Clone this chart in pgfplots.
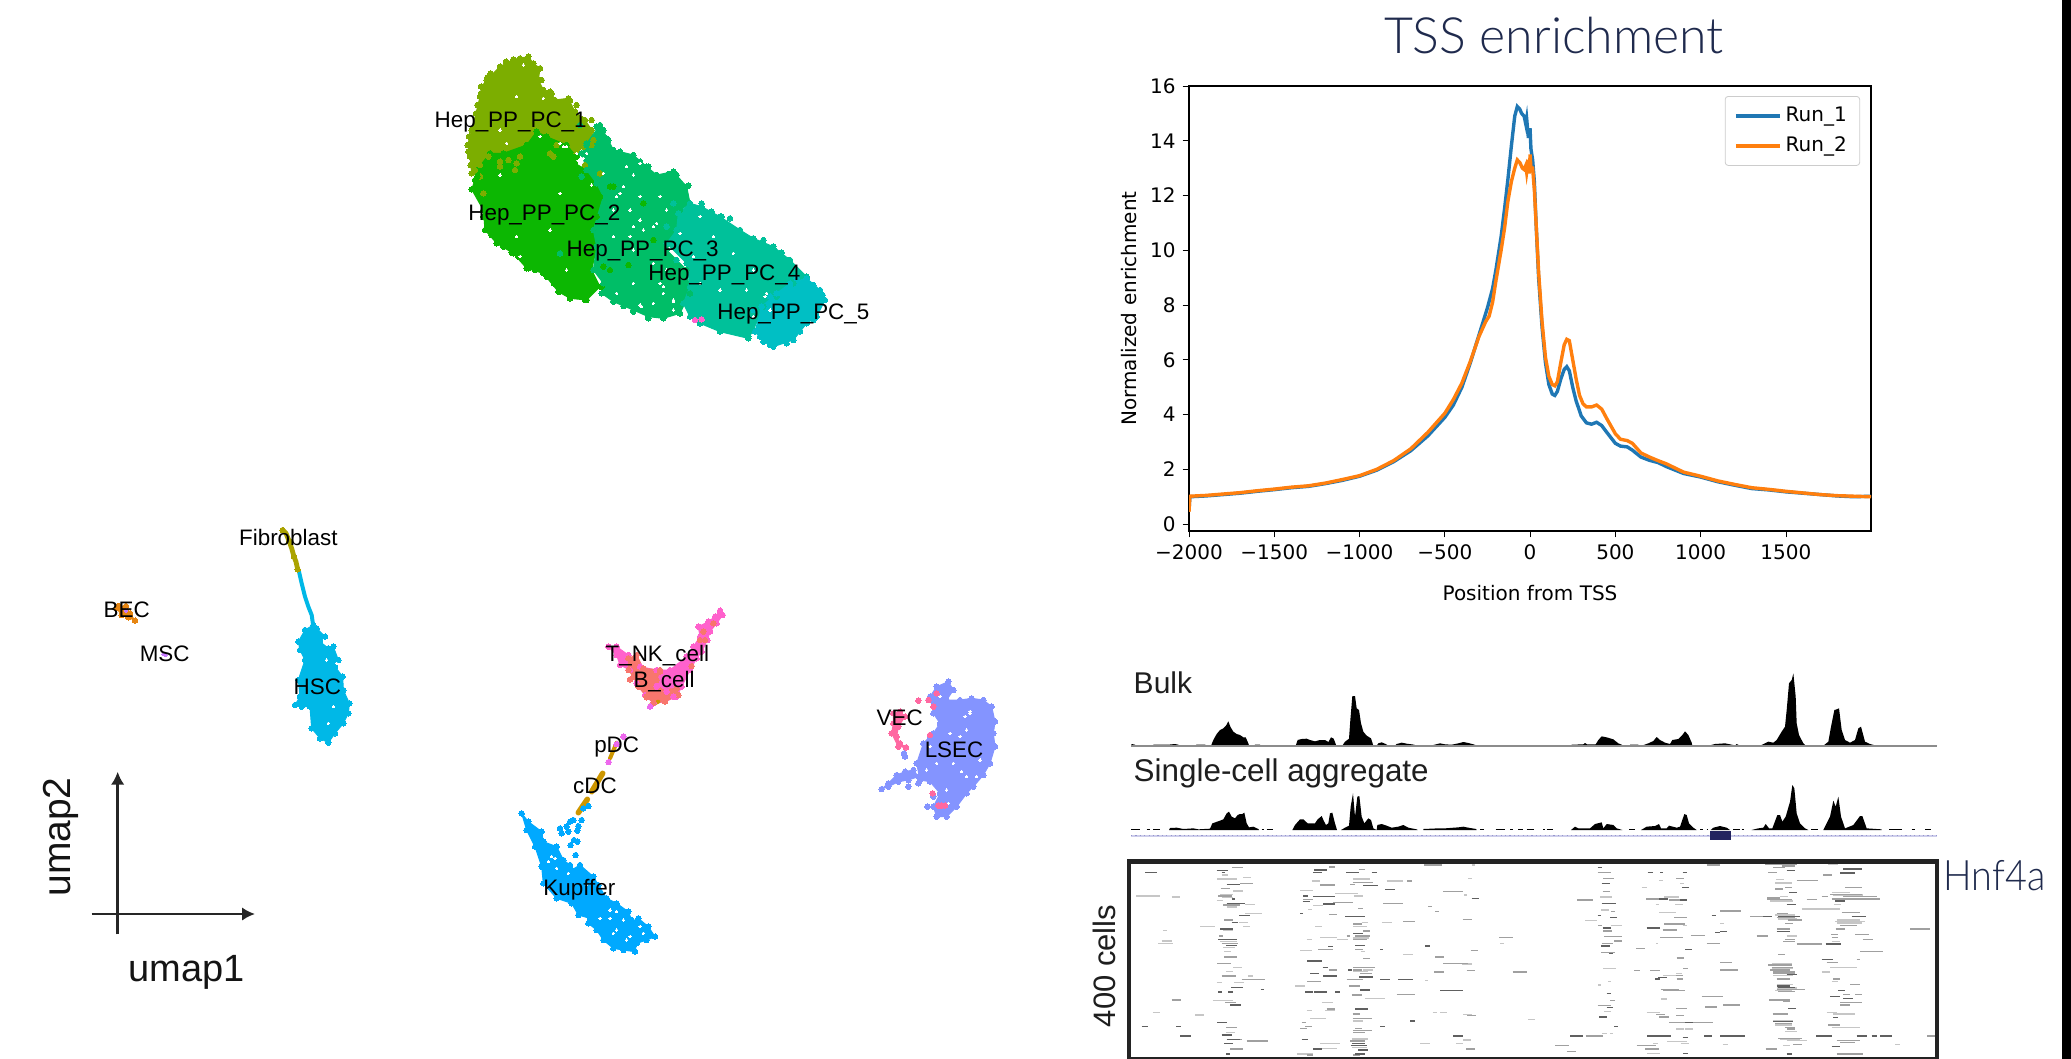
\documentclass[border=0pt]{standalone}
\usepackage{pgfplots}
\pgfplotsset{compat=1.18}
\usepackage{fontspec}
\setmainfont{Liberation Sans}
\newfontfamily\djv{DejaVu Sans}
\newfontfamily\gill{Lato Light}
\usetikzlibrary{arrows.meta}
\definecolor{hA}{HTML}{7CAE00}\definecolor{hB}{HTML}{0CB702}\definecolor{hC}{HTML}{00BE67}
\definecolor{hD}{HTML}{00C19A}\definecolor{hE}{HTML}{00BFC4}\definecolor{hsc}{HTML}{00B8E7}
\definecolor{kup}{HTML}{00A9FF}\definecolor{lsec}{HTML}{8494FF}\definecolor{vec}{HTML}{FF68A1}
\definecolor{tnk}{HTML}{FF61CC}\definecolor{bcell}{HTML}{F8766D}\definecolor{cdc}{HTML}{CD9600}
\definecolor{bec}{HTML}{E68613}\definecolor{fib}{HTML}{ABA300}\definecolor{pdc}{HTML}{ED68ED}
\definecolor{msc}{HTML}{C77CFF}\definecolor{navy}{HTML}{1F2A4D}\definecolor{runA}{HTML}{1F77B4}
\definecolor{runB}{HTML}{FF7F0E}
\definecolor{dk}{HTML}{606060}\definecolor{md}{HTML}{A0A0A0}\definecolor{lt}{HTML}{C6C6C6}
\tikzset{lab/.style={font=\fontsize{11.2}{12}\selectfont,anchor=base,text=black,inner sep=0pt}}
\pgfplotsset{
 panel/.style={hide axis,scale only axis,anchor=north west,y dir=reverse,clip=true},
 blob/.style={fill=#1,draw=#1,line width=0.5pt,mark=*,mark size=1.35pt,mark options={fill=#1,draw=#1,line width=0pt,solid}},
 dots/.style={only marks,mark=*,mark size=1.35pt,mark options={fill=#1,draw=#1,line width=0pt}},
 gap/.style={only marks,mark=*,mark size=0.65pt,mark options={fill=white,draw=white,line width=0pt}},
 cline/.style={draw=#1,line width=2.4pt,line cap=round,line join=round},
 seg/.style={draw=none,mark=none,forget plot,error bars/x dir=plus,error bars/x explicit,error bars/error mark=none,error bars/error bar style={color=#1,line width=0.8pt,solid}},
 table/segt/.style={row sep=\\,header=false,x index=0,y index=1,x error index=2},
}
\begin{document}
\begin{tikzpicture}
\useasboundingbox (0,0) rectangle (1035.5pt,-529.5pt);

% ---------- Hepatocyte clusters
\begin{axis}[panel,at={(200pt,-15pt)},width=250pt,height=170pt,xmin=0,xmax=1500,ymin=0,ymax=1020]
\addplot[blob=hA] coordinates {(385,80)(400,100)(420,115)(415,150)(430,180)(455,190)(465,210)(505,205)(525,245)(555,270)(575,300)(580,330)(550,350)(530,370)(450,370)(350,400)(300,410)(240,440)(215,430)(210,380)(203,345)(215,300)(228,250)(240,200)(245,170)(260,150)(300,110)(340,88)} --cycle;
\addplot[dots=hA] coordinates {(420,115)(243,170)(243,190)(262,142)(425,150)(450,185)(510,212)(530,225)(548,268)(575,270)(318,95)(360,85)(272,130)(232,225)(207,320)(205,365)(212,405)};
\addplot[blob=hB] coordinates {(230,420)(270,370)(310,370)(380,345)(410,305)(440,320)(500,345)(530,380)(525,400)(560,420)(590,460)(610,500)(590,560)(580,600)(590,650)(575,720)(600,770)(560,810)(510,805)(475,785)(430,730)(380,715)(340,670)(290,640)(255,600)(250,540)(215,478)(225,450)} --cycle;
\addplot[dots=hB] coordinates {(215,478)(240,500)(250,560)(275,615)(310,650)(355,680)(385,715)(440,740)(480,785)(510,800)(555,810)(605,770)(232,438)(262,590)(335,668)(405,720)(462,760)};
\addplot[dots=hA] coordinates {(240,405)(225,420)(250,490)(265,380)(300,395)(345,420)(325,390)(360,380)(460,380)(600,430)(555,405)(575,345)(510,330)(470,345)};
\addplot[blob=hC] coordinates {(560,340)(600,285)(625,330)(640,360)(700,375)(740,410)(770,435)(820,425)(860,470)(870,520)(840,540)(830,600)(800,660)(860,720)(870,790)(840,850)(790,865)(745,860)(700,840)(640,815)(605,790)(610,760)(580,720)(590,650)(580,600)(610,500)(590,460)(560,420)(545,370)} --cycle;
\addplot[dots=hC] coordinates {(540,285)(560,345)(480,670)(590,290)(610,300)(830,435)(545,440)(620,325)(660,365)(695,380)(745,410)(770,435)(820,425)(865,467)(640,815)(700,845)(745,865)(790,860)(840,850)(720,395)(805,432)(670,828)};
\addplot[dots=hB] coordinates {(630,470)(730,520)(685,705)(760,630)(630,720)(610,710)(540,745)(640,470)(600,500)};
\addplot[blob=hD] coordinates {(870,520)(905,530)(960,560)(1020,600)(1060,625)(1120,650)(1170,690)(1220,740)(1180,760)(1130,800)(1090,830)(1060,900)(1045,925)(960,905)(900,880)(870,860)(850,820)(870,770)(860,700)(800,640)(830,600)(835,550)} --cycle;
\addplot[dots=hD] coordinates {(800,590)(830,690)(880,600)(820,520)(895,830)(880,840)(1000,900)(960,905)(1045,920)(1090,630)(905,520)(935,545)(965,560)(1020,600)(1060,625)(1120,655)(1165,690)(1000,900)(990,565)(1145,668)};
\addplot[blob=hE] coordinates {(1220,745)(1260,780)(1275,810)(1250,860)(1220,880)(1180,930)(1120,950)(1090,935)(1065,905)(1085,830)(1130,790)(1170,760)} --cycle;
\addplot[dots=hE] coordinates {(1110,800)(1090,850)(1190,745)(1060,840)(1240,765)(1268,795)(1240,870)(1200,905)(1160,940)(1110,945)(1080,920)};
\addplot[gap] coordinates {(720,570)(770,580)(700,590)(650,500)(680,410)(720,400)(560,370)(530,370)(575,465)(480,490)(320,340)(300,435)(720,825)(820,815)(790,770)(840,610)(900,560)(1100,790)(690,620)(500,350)(550,385)(660,490)(730,600)(760,590)(820,810)(370,105)(430,205)(490,350)(700,435)(670,470)(640,540)(720,500)(780,500)(800,540)(690,540)(640,620)(700,660)(760,700)(800,720)(880,680)(940,620)(1000,670)(1060,720)(1040,780)(960,780)(900,760)(700,760)(650,790)(760,820)(820,840)(1110,840)(1060,860)(450,600)(350,620)(500,720)(300,300)(350,200)(420,320)(480,340)(360,680)(780,760)(790,790)(725,830)(1095,800)(610,430)};
\addplot[dots=tnk] coordinates {(885,870)(905,868)};
\end{axis}
\begin{axis}[panel,at={(200pt,-15pt)},width=250pt,height=170pt,xmin=0,xmax=1500,ymin=0,ymax=1020]
\node[lab] at (axis cs:332,292) {Hep\_PP\_PC\_1};
\node[lab] at (axis cs:433,570) {Hep\_PP\_PC\_2};
\node[lab] at (axis cs:728,680) {Hep\_PP\_PC\_3};
\node[lab] at (axis cs:973,752) {Hep\_PP\_PC\_4};
\node[lab] at (axis cs:1180,868) {Hep\_PP\_PC\_5};
\end{axis}

% ---------- Left clusters and umap arrows
\begin{axis}[panel,at={(0pt,-250pt)},width=200pt,height=260pt,xmin=0,xmax=1200,ymin=0,ymax=1560]
\addplot[cline=fib] coordinates {(848,90)(858,100)(868,125)(875,145)(882,170)(888,185)(893,208)};
\addplot[dots=fib] coordinates {(848,90)(868,125)(882,170)(893,208)};
\addplot[cline=hsc,line width=2pt] coordinates {(897,215)(905,250)(915,290)(925,320)(935,345)(940,380)};
\addplot[blob=hsc] coordinates {(940,375)(950,385)(975,410)(960,425)(985,445)(1000,440)(1015,480)(1005,500)(1028,530)(1030,570)(1048,610)(1045,640)(1030,670)(1005,700)(985,728)(960,715)(935,685)(930,620)(905,620)(885,615)(900,590)(895,540)(915,480)(900,450)(895,425)(915,390)} --cycle;
\addplot[gap] coordinates {(985,670)(1010,490)(980,480)(1000,620)};
\addplot[blob=bec] coordinates {(355,318)(378,318)(390,340)(405,362)(385,352)(365,345)(350,325)} --cycle;
\addplot[only marks,mark=*,mark size=0.9pt,mark options={fill=msc,draw=msc,line width=0pt}] coordinates {(490,462)(497,465)(378,332)};
\addplot[draw={rgb,255:red,38;green,38;blue,38},line width=1.35pt,-{Latex[length=6.5pt,width=6.8pt]}] coordinates {(353,1303)(353,815)};
\addplot[draw={rgb,255:red,38;green,38;blue,38},line width=1.35pt,-{Latex[length=6.5pt,width=6.8pt]}] coordinates {(275,1242)(765,1242)};
\end{axis}
\begin{axis}[panel,at={(0pt,-250pt)},width=200pt,height=260pt,xmin=0,xmax=1200,ymin=0,ymax=1560]
\node[lab] at (axis cs:865,135) {Fibroblast};
\node[lab] at (axis cs:380,352) {BEC};
\node[lab] at (axis cs:494,485) {MSC};
\node[lab] at (axis cs:952,583) {HSC};
\node[anchor=base,inner sep=0pt,font=\fontsize{19}{20}\selectfont,text={rgb,255:red,20;green,20;blue,20}] at (axis cs:559,1443) {umap1};
\node[anchor=base,inner sep=0pt,rotate=90,font=\fontsize{19.5}{20}\selectfont,text={rgb,255:red,20;green,20;blue,20}] at (axis cs:212,1011) {umap2};
\end{axis}

% ---------- Immune and endothelial clusters
\begin{axis}[panel,at={(250pt,-295pt)},width=260pt,height=185pt,xmin=0,xmax=1560,ymin=0,ymax=1110]
\addplot[blob=tnk] coordinates {(660,62)(668,75)(650,100)(630,125)(622,150)(605,185)(590,205)(570,240)(545,290)(530,320)(495,335)(460,340)(435,315)(410,280)(390,240)(360,225)(350,195)(325,170)(350,170)(385,195)(420,230)(470,240)(510,240)(560,200)(580,170)(600,140)(595,110)(625,95)(645,80)} --cycle;
\addplot[blob=bcell] coordinates {(385,205)(410,195)(430,235)(480,240)(470,270)(455,290)(480,300)(530,295)(535,315)(495,335)(460,338)(440,320)(415,290)(400,260)(385,240)} --cycle;
\addplot[dots=bcell] coordinates {(390,268)(575,228)(610,125)(640,100)(600,150)(480,245)(440,322)(615,150)};
\addplot[dots=tnk] coordinates {(520,320)(470,290)(500,305)};
\addplot[cline=cdc,line width=2pt] coordinates {(452,345)(475,335)};
\addplot[cline=cdc,line width=2pt] coordinates {(350,458)(330,505)};
\addplot[cline=cdc,line width=2.8pt] coordinates {(308,550)(275,605)};
\addplot[cline=cdc,line width=2.8pt] coordinates {(262,628)(235,668)};
\addplot[dots=pdc] coordinates {(370,440)(326,516)(350,462)(450,350)};
\addplot[blob=kup] coordinates {(65,670)(85,695)(125,725)(130,755)(170,770)(190,810)(210,825)(215,840)(240,825)(280,860)(295,885)(320,925)(350,940)(385,965)(395,990)(385,1000)(415,985)(445,1010)(465,1040)(440,1050)(410,1060)(405,1085)(370,1080)(340,1075)(310,1050)(290,1020)(265,1000)(270,985)(235,975)(215,940)(170,925)(130,880)(125,830)(105,770)(80,720)} --cycle;
\addplot[dots=kup] coordinates {(180,715)(185,730)(210,695)(220,690)(200,710)(205,725)(245,690)(235,708)(232,722)(222,750)(232,755)(212,765)(227,795)(250,655)(265,648)};
\addplot[gap] coordinates {(155,800)(170,835)(205,850)(260,885)(330,960)(370,990)(350,1020)(300,985)(390,1040)(420,1010)(430,1030)(380,1050)(340,1030)(145,815)(165,805)(330,985)(350,965)};
\addplot[blob=lsec] coordinates {(1345,275)(1360,300)(1340,330)(1380,330)(1415,325)(1450,330)(1475,350)(1485,395)(1480,430)(1485,470)(1470,520)(1450,555)(1420,590)(1400,610)(1370,650)(1340,680)(1310,680)(1300,650)(1320,610)(1290,575)(1260,570)(1250,520)(1270,460)(1300,430)(1320,400)(1300,370)(1290,320)(1310,290)} --cycle;
\addplot[blob=lsec] coordinates {(1145,597)(1165,580)(1190,555)(1215,545)(1240,540)(1255,560)(1225,570)(1195,575)(1165,590)} --cycle;
\addplot[dots=lsec] coordinates {(1212,490)(1215,500)(1282,650)(1255,580)(1225,590)(1290,440)(1300,620)};
\addplot[gap] coordinates {(1320,320)(1410,370)(1310,520)(1385,545)(1440,510)(1430,560)(1340,600)(1400,420)(1350,430)(1280,540)(1290,470)(1410,365)(1360,520)(1400,560)(1345,640)(1395,380)(1380,440)};
\addplot[blob=vec] coordinates {(1180,370)(1200,365)(1215,380)(1195,410)(1190,440)(1200,460)(1218,472)(1195,470)(1175,430)(1180,400)} --cycle;
\addplot[dots=vec] coordinates {(1255,332)(1285,330)(1310,310)(1300,350)(1290,435)(1298,610)(1315,647)(1325,647)(1335,647)};
\end{axis}
\begin{axis}[panel,at={(250pt,-295pt)},width=260pt,height=185pt,xmin=0,xmax=1560,ymin=0,ymax=1110]
\node[lab] at (axis cs:472,215) {T\_NK\_cell};
\node[lab] at (axis cs:492,293) {B\_cell};
\node[lab] at (axis cs:350,487) {pDC};
\node[lab] at (axis cs:285,610) {cDC};
\node[lab] at (axis cs:238,915) {Kupffer};
\node[lab] at (axis cs:1199,405) {VEC};
\node[lab] at (axis cs:1362,503) {LSEC};
\end{axis}

% ---------- TSS enrichment curves
\node[font=\gill\fontsize{25}{28}\selectfont,text=navy,anchor=base] at (777pt,-27pt) {TSS enrichment};
\begin{axis}[scale only axis,anchor=north west,at={(594.5pt,-43pt)},width=341pt,height=222.5pt,
 xmin=-2000,xmax=1999,ymin=-0.25,ymax=16,
 xtick={-2000,-1500,-1000,-500,0,500,1000,1500},xticklabels={−2000,−1500,−1000,−500,0,500,1000,1500},
 ytick={0,2,4,6,8,10,12,14,16},yticklabels={0,2,4,6,8,10,12,14,16},
 tick align=outside,xtick pos=bottom,ytick pos=left,major tick length=3.2pt,
 every tick/.style={black,line width=0.4pt},axis line style={line width=0.6pt,color=black},
 tick label style={font=\djv\fontsize{10}{12}\selectfont},
 label style={font=\djv\fontsize{10}{12}\selectfont},
 xlabel={Position from TSS},ylabel={Normalized enrichment},
 xlabel style={yshift=-6pt},
 legend style={at={(0.984,0.9775)},anchor=north east,draw={rgb,255:red,204;green,204;blue,204},rounded corners=1.5pt,font=\djv\fontsize{10}{12}\selectfont,row sep=2.2pt,inner xsep=4.5pt,inner ysep=3.3pt},
 legend cell align=left,
 legend image code/.code={\draw[#1,line width=1.7pt] (0pt,0pt) -- (22pt,0pt);},
]
\addplot[runA,line width=1.7pt] coordinates {(-2000,0.5)(-1995,1.0)(-1900,1.03)(-1800,1.08)(-1700,1.13)(-1600,1.2)(-1500,1.26)(-1400,1.33)(-1300,1.38)(-1200,1.48)(-1100,1.6)(-1000,1.75)(-900,1.97)(-800,2.28)(-700,2.68)(-600,3.22)(-500,3.9)(-450,4.35)(-400,5.0)(-350,5.9)(-300,6.9)(-250,7.9)(-220,8.6)(-200,9.3)(-170,10.5)(-150,11.5)(-130,12.6)(-110,13.8)(-90,14.9)(-75,15.25)(-60,15.15)(-50,15)(-35,14.9)(-25,14.6)(-20,14.8)(-10,14.1)(-5,14.4)(0,14.4)(5,13.7)(15,13.3)(25,12.5)(35,11)(50,9)(70,7.2)(90,5.9)(110,5.1)(130,4.75)(145,4.7)(160,4.85)(180,5.3)(200,5.65)(215,5.75)(230,5.6)(250,5.0)(270,4.5)(300,3.95)(330,3.7)(360,3.65)(390,3.72)(420,3.6)(450,3.35)(500,2.95)(530,2.85)(570,2.82)(600,2.7)(650,2.45)(700,2.33)(750,2.25)(800,2.1)(900,1.85)(1000,1.72)(1100,1.55)(1200,1.42)(1300,1.3)(1400,1.25)(1500,1.18)(1600,1.13)(1700,1.08)(1800,1.03)(1900,1.0)(1999,1.02)};
\addlegendentry{Run\_1}
\addplot[runB,line width=1.7pt] coordinates {(-2000,0.45)(-1995,1.02)(-1900,1.05)(-1800,1.1)(-1700,1.15)(-1600,1.22)(-1500,1.28)(-1400,1.35)(-1300,1.4)(-1200,1.5)(-1100,1.63)(-1000,1.77)(-900,2)(-800,2.32)(-700,2.75)(-600,3.35)(-500,4.05)(-450,4.55)(-400,5.15)(-350,5.95)(-300,6.85)(-260,7.4)(-240,7.6)(-220,8.1)(-200,8.9)(-170,10)(-150,10.8)(-130,11.8)(-110,12.5)(-90,13)(-75,13.3)(-60,13.2)(-45,13)(-35,12.95)(-25,13.1)(-20,12.85)(-10,13.3)(-5,12.8)(0,13.5)(5,13)(15,13)(25,12.2)(35,11)(50,9.2)(70,7.4)(90,6.1)(110,5.4)(130,5.1)(145,5.05)(160,5.2)(180,5.9)(200,6.55)(215,6.75)(230,6.7)(250,6.0)(270,5.3)(290,4.7)(310,4.4)(330,4.28)(360,4.28)(390,4.35)(420,4.2)(450,3.85)(500,3.3)(530,3.1)(570,3.05)(600,2.95)(650,2.6)(700,2.45)(750,2.32)(800,2.2)(900,1.9)(1000,1.75)(1100,1.58)(1200,1.45)(1300,1.33)(1400,1.27)(1500,1.2)(1600,1.14)(1700,1.08)(1800,1.04)(1900,1.02)(1999,1.0)};
\addlegendentry{Run\_2}
\end{axis}

% ---------- Genome tracks
\begin{axis}[panel,at={(562.5pt,-330pt)},width=473pt,height=95pt,xmin=0,xmax=2838,ymin=0,ymax=570]
\addplot[fill=black,draw=none] coordinates {(18,257)(20,252)(30,254)(32,257)(85,257)(85,254)(130,254)(150,252)(160,254)(162,257)(212,257)(214,254)(240,254)(245,257)(258,257)(265,240)(275,222)(285,210)(295,205)(303,197)(310,184)(316,200)(325,215)(335,222)(345,225)(355,232)(362,232)(370,250)(372,257)(388,257)(390,254)(405,254)(407,257)(512,257)(518,240)(530,237)(545,236)(555,240)(570,244)(585,240)(600,240)(610,246)(618,232)(626,236)(634,257)(652,257)(660,245)(672,236)(676,180)(682,108)(690,108)(695,145)(702,150)(708,190)(715,215)(725,227)(738,235)(745,257)(755,257)(760,250)(770,247)(782,252)(790,257)(810,257)(815,252)(830,248)(845,251)(868,254)(870,257)(895,257)(895,255)(925,255)(945,250)(960,253)(980,254)(1000,250)(1015,246)(1030,249)(1045,253)(1058,257)(1340,257)(1340,254)(1375,253)(1380,249)(1386,253)(1412,253)(1420,240)(1430,229)(1445,232)(1465,238)(1480,250)(1490,254)(1495,257)(1515,257)(1515,254)(1540,254)(1540,257)(1550,257)(1570,250)(1585,243)(1595,231)(1605,240)(1620,248)(1635,252)(1642,240)(1660,237)(1672,225)(1680,214)(1690,225)(1700,248)(1702,257)(1750,257)(1770,252)(1800,250)(1825,255)(1830,257)(1835,252)(1845,257)(1905,257)(1920,250)(1930,245)(1945,248)(1955,240)(1970,215)(1980,200)(1985,150)(1992,70)(2000,60)(2005,40)(2012,110)(2015,190)(2022,225)(2035,250)(2042,257)(2095,257)(2110,245)(2118,200)(2128,150)(2135,148)(2142,145)(2150,210)(2160,240)(2175,248)(2190,240)(2200,205)(2208,200)(2220,245)(2235,252)(2255,257)(2436,257)} --cycle;
\addplot[draw={rgb,255:red,140;green,140;blue,140},line width=0.6pt] coordinates {(18,258)(2436,258)};
\addplot[fill=black,draw=none] coordinates {(132,510)(135,504)(155,503)(175,507)(205,505)(220,508)(255,506)(262,490)(285,482)(295,478)(305,460)(312,455)(320,470)(330,475)(338,465)(345,462)(352,462)(358,458)(365,490)(372,502)(385,500)(400,507)(402,510)} --cycle;
\addplot[fill=black,draw=none] coordinates {(502,510)(510,495)(525,478)(535,478)(548,490)(570,490)(578,478)(590,468)(596,482)(603,495)(610,490)(615,460)(622,458)(630,490)(636,510)} --cycle;
\addplot[fill=black,draw=none] coordinates {(648,510)(660,503)(672,497)(677,440)(684,400)(690,470)(697,410)(703,408)(710,470)(718,490)(730,475)(738,480)(745,505)(755,510)(757,495)(770,492)(785,497)(800,503)(820,500)(835,495)(850,503)(875,508)(878,510)} --cycle;
\addplot[fill=black,draw=none] coordinates {(895,510)(895,507)(940,505)(960,505)(1000,502)(1015,500)(1030,503)(1053,507)(1055,510)} --cycle;
\addplot[fill=black,draw=none] coordinates {(1338,510)(1350,500)(1360,505)(1395,505)(1410,492)(1430,487)(1435,505)(1445,492)(1465,495)(1475,505)(1492,510)} --cycle;
\addplot[fill=black,draw=none] coordinates {(1548,510)(1565,500)(1590,498)(1602,492)(1608,505)(1625,505)(1632,497)(1655,503)(1665,500)(1678,462)(1685,465)(1692,490)(1705,503)(1715,510)} --cycle;
\addplot[fill=black,draw=none] coordinates {(1757,510)(1765,503)(1785,498)(1805,503)(1815,510)} --cycle;
\addplot[fill=black,draw=none] coordinates {(1880,510)(1900,505)(1915,503)(1922,492)(1932,505)(1942,505)(1957,465)(1965,465)(1972,485)(1982,470)(1995,425)(2002,375)(2008,385)(2015,460)(2025,490)(2040,505)(2050,510)} --cycle;
\addplot[fill=black,draw=none] coordinates {(2095,510)(2105,490)(2115,470)(2125,422)(2132,440)(2140,410)(2148,470)(2160,505)(2185,495)(2205,468)(2212,468)(2225,505)(2270,508)(2270,510)} --cycle;
\addplot[seg=black,error bars/error bar style={line width=0.5pt}] table[segt] {18 508 28\\65 508 10\\85 508 20\\410 508 8\\425 508 18\\1065 508 13\\1112 508 28\\1155 508 10\\1180 508 15\\1205 508 23\\1255 508 5\\1265 508 20\\1512 508 18\\1725 508 10\\1745 508 5\\1825 508 20\\1850 508 8\\2058 508 22\\2292 508 40\\2360 508 10\\2400 508 18\\};
% gene model
\addplot[draw={rgb,255:red,205;green,205;blue,235},line width=1pt] coordinates {(18,527)(2436,527)};
\addplot[draw={rgb,255:red,150;green,150;blue,205},line width=0.5pt,dash pattern=on 0.6pt off 1.6pt] coordinates {(18,527)(2436,527)};
\addplot[fill={rgb,255:red,35;green,36;blue,95},draw=none] coordinates {(1755,512)(1817,512)(1817,540)(1755,540)} --cycle;
\node[anchor=base west,inner sep=0pt,text={rgb,255:red,30;green,30;blue,30},font=\fontsize{15}{16}\selectfont] at (axis cs:25,100) {Bulk};
\node[anchor=base west,inner sep=0pt,text={rgb,255:red,30;green,30;blue,30},font=\fontsize{15.7}{17}\selectfont] at (axis cs:25,365) {Single-cell aggregate};
\end{axis}

% ---------- Single-cell fragments, left third
\begin{axis}[panel,at={(560pt,-427.5pt)},width=150pt,height=102pt,xmin=0,xmax=900,ymin=0,ymax=612]
\addplot[seg=lt] table[segt] {305 60 20\\292 72 58\\370 68 22\\698 72 52\\575 78 25\\800 78 50\\540 106 40\\340 108 30\\300 118 40\\645 116 70\\48 123 72\\155 126 25\\702 123 28\\290 136 20\\375 148 30\\580 152 30\\565 163 10\\375 175 50\\358 203 27\\725 202 20\\785 203 30\\240 215 45\\370 215 20\\585 215 20\\130 227 10\\310 227 30\\600 247 50\\560 254 15\\650 254 35\\125 258 30\\115 265 45\\540 286 35\\312 290 20\\722 290 13\\850 298 28\\340 338 25\\730 345 30\\318 350 20\\385 363 15\\290 383 15\\342 383 30\\525 393 30\\735 430 60\\278 437 62\\605 442 35\\560 467 15\\615 467 30\\98 472 22\\225 480 28\\570 490 48\\698 498 32\\318 533 27\\600 565 60\\598 580 52\\530 597 50\\305 128 35\\320 156 30\\700 214 40\\698 249 50\\300 259 50\\310 277 35\\700 350 45\\705 526 45\\695 552 50\\695 578 45\\};
\addplot[seg=md] table[segt] {337 38 33\\716 43 19\\628 36 17\\698 82 62\\862 78 13\\360 85 38\\600 90 45\\690 88 15\\302 100 28\\295 123 40\\550 133 30\\640 142 60\\310 150 50\\790 145 60\\715 160 15\\628 178 22\\312 195 26\\850 200 35\\700 207 25\\730 228 20\\298 243 12\\680 243 10\\705 243 45\\700 254 40\\305 265 50\\595 284 45\\705 284 25\\312 306 40\\730 310 20\\292 326 41\\700 338 65\\628 345 22\\700 345 25\\720 355 35\\305 363 43\\680 373 50\\365 373 70\\562 380 40\\688 393 32\\830 419 55\\695 420 30\\155 435 27\\315 442 33\\620 462 25\\698 477 22\\698 490 57\\545 502 13\\555 515 20\\318 518 34\\540 521 22\\705 521 20\\700 527 55\\700 533 35\\335 553 30\\380 558 65\\690 558 45\\330 582 40\\560 600 20\\700 600 20\\};
\addplot[seg=dk] table[segt] {290 47 35\\582 45 38\\75 52 35\\305 52 10\\678 52 40\\580 52 25\\755 52 15\\320 88 40\\730 91 45\\796 103 29\\550 123 15\\580 125 65\\335 132 10\\548 140 22\\320 145 55\\610 147 35\\540 175 8\\358 181 32\\675 184 60\\335 203 20\\300 222 40\\700 235 30\\295 254 55\\318 271 32\\705 271 30\\625 275 15\\780 284 10\\578 318 27\\562 318 18\\608 338 17\\685 345 10\\570 355 28\\610 363 42\\718 366 42\\780 373 30\\835 373 45\\333 398 37\\422 404 10\\720 405 30\\295 411 10\\325 411 15\\555 411 23\\583 411 39\\645 411 15\\330 450 32\\705 462 40\\870 498 15\\292 502 30\\65 515 20\\168 515 14\\780 515 15\\305 540 30\\180 543 32\\320 553 40\\545 553 20\\312 565 28\\695 565 40\\692 572 48\\580 582 25\\715 585 30\\318 597 12\\705 597 30\\};
\end{axis}

% ---------- Single-cell fragments, middle third
\begin{axis}[panel,at={(710pt,-427.5pt)},width=150pt,height=102pt,xmin=0,xmax=900,ymin=0,ymax=612]
\addplot[seg=lt] table[segt] {155 30 10\\145 70 12\\718 77 10\\780 85 12\\665 97 17\\132 120 10\\540 126 35\\733 126 45\\707 148 10\\765 148 25\\543 165 25\\718 173 49\\495 196 35\\572 211 33\\788 211 12\\240 265 13\\708 265 7\\15 376 10\\565 380 8\\535 390 8\\722 432 18\\552 470 20\\38 473 12\\60 473 22\\680 473 40\\130 478 25\\325 494 20\\768 522 24\\795 522 25\\547 535 13\\570 535 8\\130 555 23\\742 560 58\\0 565 30\\108 565 22\\700 565 13\\782 565 26\\682 596 38\\550 340 38\\768 355 17\\730 362 40\\125 327 30\\};
\addplot[seg=md] table[segt] {12 30 53\\860 30 40\\533 52 40\\550 70 32\\768 70 24\\70 110 60\\548 110 22\\678 132 67\\472 135 46\\748 135 52\\25 155 10\\45 170 12\\573 170 12\\762 187 38\\128 194 27\\733 207 62\\535 211 10\\728 225 17\\730 225 40\\550 228 25\\812 242 43\\552 245 53\\720 248 68\\238 248 40\\582 258 23\\545 265 35\\860 265 40\\648 281 27\\152 287 21\\543 293 42\\45 306 27\\770 309 23\\70 325 75\\790 340 15\\140 347 25\\690 347 30\\643 347 17\\43 351 30\\278 351 44\\768 362 22\\770 372 20\\722 403 56\\730 407 65\\845 425 55\\570 437 15\\533 451 39\\855 456 37\\768 461 32\\708 478 27\\142 481 26\\768 481 25\\718 486 30\\748 502 132\\497 543 51\\405 572 42\\650 572 57\\675 582 43\\138 582 27\\440 590 27\\};
\addplot[seg=dk] table[segt] {533 38 12\\683 52 17\\720 52 10\\788 52 12\\545 85 25\\787 97 19\\155 130 22\\717 132 28\\780 135 20\\545 145 42\\533 181 10\\875 181 13\\570 187 22\\548 219 24\\680 219 40\\885 232 15\\15 273 15\\543 273 27\\795 284 20\\568 296 12\\715 368 25\\705 372 15\\60 407 68\\560 415 13\\560 458 18\\538 486 22\\583 515 10\\795 502 25\\100 543 28\\450 543 38\\682 543 70\\852 543 23\\788 548 15\\790 596 15\\};
\end{axis}

% ---------- Single-cell fragments, right third
\begin{axis}[panel,at={(840pt,-427.5pt)},width=150pt,height=102pt,xmin=0,xmax=900,ymin=0,ymax=612]
\addplot[seg=lt] table[segt] {445 28 30\\288 73 24\\285 84 50\\455 113 55\\300 124 25\\270 138 70\\462 148 20\\365 162 115\\470 195 70\\465 200 90\\120 205 12\\320 243 30\\455 260 25\\450 337 80\\425 351 25\\455 380 20\\440 473 30\\460 477 65\\455 518 85\\315 530 35\\320 556 60\\645 568 15\\310 572 20\\128 568 17\\285 180 60\\295 192 55\\275 326 60\\275 341 65\\280 361 60\\290 388 50\\290 399 60\\285 407 50\\280 496 60\\285 510 50\\300 554 60\\470 204 75\\460 120 90\\};
\addplot[seg=md] table[segt] {255 28 95\\305 33 40\\280 38 35\\265 52 27\\430 60 25\\350 77 65\\315 97 20\\495 98 50\\285 102 25\\450 118 95\\425 124 20\\490 124 100\\262 129 38\\262 133 73\\380 133 30\\455 132 145\\120 168 62\\485 172 55\\290 175 35\\210 184 65\\290 188 55\\325 195 40\\315 205 25\\480 212 50\\690 222 60\\290 222 40\\467 222 28\\525 238 43\\453 238 22\\230 243 33\\455 248 20\\548 254 30\\315 254 30\\310 260 35\\350 267 75\\540 290 70\\295 298 20\\530 313 10\\120 322 35\\440 322 35\\265 330 70\\275 337 65\\120 345 55\\270 345 60\\280 351 65\\280 355 65\\290 372 40\\460 372 20\\510 388 30\\290 403 85\\295 410 50\\490 418 20\\525 418 20\\120 425 10\\268 435 62\\310 440 20\\480 443 65\\130 450 50\\480 450 30\\278 477 47\\285 505 50\\445 510 35\\315 518 30\\320 522 25\\295 550 70\\470 556 70\\480 563 45\\340 568 25\\257 582 33\\470 597 80\\742 543 23\\};
\addplot[seg=dk] table[segt] {490 42 55\\320 47 25\\480 54 45\\328 113 22\\465 138 30\\320 148 28\\250 184 25\\295 184 65\\515 184 43\\120 229 20\\290 229 40\\437 267 46\\425 313 35\\320 358 30\\290 393 40\\295 397 50\\475 407 20\\450 425 30\\490 431 30\\325 460 23\\460 487 15\\280 500 60\\120 543 75\\408 543 47\\530 543 30\\600 543 35\\575 543 15\\455 575 25\\320 597 15\\};
\end{axis}

% ---------- Frame of the fragment panel
\begin{axis}[scale only axis,anchor=north west,at={(564.5pt,-430.75pt)},width=404pt,height=99pt,
 xmin=0,xmax=1,ymin=0,ymax=1,xtick=\empty,ytick=\empty,axis line style={line width=2.3pt,color={rgb,255:red,35;green,35;blue,35}},axis on top]
\end{axis}
\node[anchor=base,inner sep=0pt,rotate=90,text={rgb,255:red,30;green,30;blue,30},font=\fontsize{15.5}{16}\selectfont] at (557.5pt,-483pt) {400 cells};
\node[anchor=base west,inner sep=0pt,text=navy,font=\gill\fontsize{21}{24}\selectfont] at (971.5pt,-445pt) {\scalebox{0.9}[1]{Hnf4a}};

% ---------- Black margin bar at the right
\begin{axis}[panel,at={(1031pt,0pt)},width=4.5pt,height=529.5pt,xmin=0,xmax=1,ymin=0,ymax=1]
\addplot[fill=black,draw=none] coordinates {(0,0)(1,0)(1,1)(0,1)} --cycle;
\end{axis}
\end{tikzpicture}
\end{document}
